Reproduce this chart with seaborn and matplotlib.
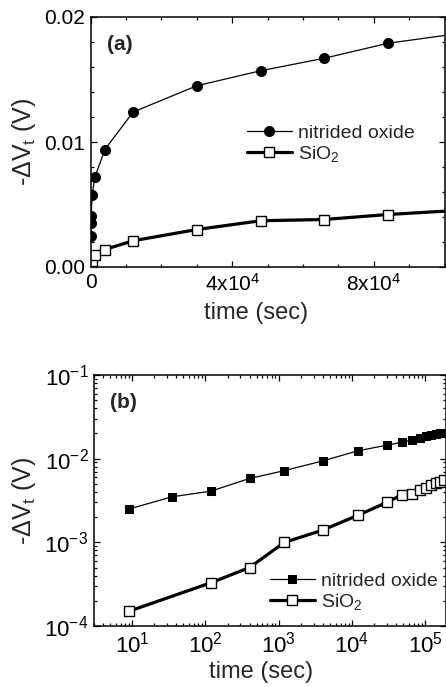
import numpy as np
import pandas as pd
import matplotlib
matplotlib.use("Agg")
import matplotlib.pyplot as plt
import seaborn as sns
from matplotlib.ticker import MultipleLocator, FixedLocator, LogLocator, NullFormatter

# ---- data ----
time_nitrided = [9, 35, 120, 400, 1200, 4000, 12000, 30000, 48000, 66000, 84000,
                 102000, 120000, 140000, 160000, 180000]
dvt_nitrided = [0.0025, 0.0035, 0.0041, 0.0058, 0.0072, 0.0094, 0.0124, 0.0145, 0.0157,
                0.0167, 0.0179, 0.0186, 0.0191, 0.0196, 0.0200, 0.0204]
time_sio2 = [9, 120, 400, 1200, 4000, 12000, 30000, 48000, 66000, 84000,
             102000, 120000, 140000, 160000, 180000]
dvt_sio2 = [0.00015, 0.00033, 0.0005, 0.0010, 0.0014, 0.0021, 0.0030, 0.0037, 0.0038,
            0.0042, 0.0045, 0.0048, 0.0051, 0.0053, 0.0055]
series_labels = ["nitrided oxide", "SiO$_2$"]
panel_labels = ["(a)", "(b)"]
xlabel = "time (sec)"
ylabel = "-$\\Delta$V$_t$ (V)"
lin_xticks = [0, 40000, 80000]
lin_xticklabels = ["0", "4x10$^4$", "8x10$^4$"]
lin_yticks = [0.0, 0.01, 0.02]
lin_yticklabels = ["0.00", "0.01", "0.02"]

sns.set_style("ticks")
plt.rcParams['font.family'] = ['Liberation Sans', 'DejaVu Sans']
plt.rcParams['mathtext.fontset'] = 'custom'
plt.rcParams['mathtext.rm'] = 'Liberation Sans'
plt.rcParams['mathtext.it'] = 'Liberation Sans:italic'
plt.rcParams['mathtext.bf'] = 'Liberation Sans:bold'
plt.rcParams['mathtext.default'] = 'regular'
plt.rcParams['axes.unicode_minus'] = False

W, H = 446, 687
fig = plt.figure(figsize=(W / 100, H / 100), dpi=100)

def px_axes(left, top, right, bottom):
    return fig.add_axes([left / W, 1 - bottom / H, (right - left) / W, (bottom - top) / H])

ax_a = px_axes(90.7, 17, 444.6, 267)
ax_b = px_axes(94, 375, 445.5, 626)

df_n = pd.DataFrame({"t": time_nitrided, "v": dvt_nitrided})
df_s = pd.DataFrame({"t": time_sio2, "v": dvt_sio2})

# ---- panel (a) ----
sns.lineplot(data=df_n, x="t", y="v", ax=ax_a, color="black", lw=0.9, marker="o",
             markersize=7.2, markeredgecolor="black", markerfacecolor="black",
             sort=False, estimator=None, label=series_labels[0])
sns.lineplot(data=df_s, x="t", y="v", ax=ax_a, color="black", lw=2.3, marker="s",
             markersize=7.0, markeredgecolor="black", markerfacecolor="white",
             markeredgewidth=1.0, sort=False, estimator=None, label=series_labels[1])
ax_a.set_xlim(0, 100000)
ax_a.set_ylim(0, 0.02)
ax_a.xaxis.set_major_locator(FixedLocator(lin_xticks))
ax_a.set_xticklabels(lin_xticklabels)
ax_a.xaxis.set_minor_locator(MultipleLocator(10000))
ax_a.yaxis.set_major_locator(FixedLocator(lin_yticks))
ax_a.set_yticklabels(lin_yticklabels)
ax_a.yaxis.set_minor_locator(MultipleLocator(0.002))

# ---- panel (b) ----
sns.lineplot(data=df_n, x="t", y="v", ax=ax_b, color="black", lw=0.9, marker="s",
             markersize=6.2, markeredgecolor="black", markerfacecolor="black",
             sort=False, estimator=None, label=series_labels[0])
sns.lineplot(data=df_s, x="t", y="v", ax=ax_b, color="black", lw=2.3, marker="s",
             markersize=7.4, markeredgecolor="black", markerfacecolor="white",
             markeredgewidth=1.0, sort=False, estimator=None, label=series_labels[1])
ax_b.set_xscale("log")
ax_b.set_yscale("log")
ax_b.set_xlim(3, 1.9e5)
ax_b.set_ylim(1e-4, 1e-1)
ax_b.xaxis.set_major_locator(LogLocator(base=10, numticks=10))
ax_b.xaxis.set_minor_locator(LogLocator(base=10, subs=np.arange(2, 10), numticks=20))
ax_b.yaxis.set_major_locator(LogLocator(base=10, numticks=10))
ax_b.yaxis.set_minor_locator(LogLocator(base=10, subs=np.arange(2, 10), numticks=20))
ax_b.xaxis.set_minor_formatter(NullFormatter())
ax_b.yaxis.set_minor_formatter(NullFormatter())

for ax, lab, tfs in [(ax_a, panel_labels[0], 15), (ax_b, panel_labels[1], 16)]:
    for s in ax.spines.values():
        s.set_linewidth(1.1)
        s.set_color("black")
        s.set_visible(True)
    ax.tick_params(which="both", direction="in", top=True, right=True, colors="black",
                   width=0.9)
    ax.tick_params(which="major", length=4, labelsize=tfs, pad=4)
    ax.tick_params(which="minor", length=2)
    ax.set_xlabel(xlabel, fontsize=17)
    ax.set_ylabel(ylabel, fontsize=18)
    ax.text(0.045, 0.89, lab, transform=ax.transAxes, fontsize=15, fontweight="bold",
            ha="left", va="center")

ax_a.xaxis.set_label_coords(0.467, -0.14)
ax_a.yaxis.set_label_coords(-0.15, 0.5)
ax_b.xaxis.set_label_coords(0.475, -0.14)
ax_b.yaxis.set_label_coords(-0.16, 0.5)

ax_a.legend(loc="center left", bbox_to_anchor=(0.4415, 0.492), frameon=False,
            fontsize=14, handlelength=2.3, handletextpad=0.3, labelspacing=0.1,
            borderpad=0, borderaxespad=0, numpoints=1)
ax_b.legend(loc="center left", bbox_to_anchor=(0.5007, 0.1355), frameon=False,
            fontsize=14, handlelength=2.3, handletextpad=0.3, labelspacing=0.1,
            borderpad=0, borderaxespad=0, numpoints=1)

fig.savefig("out.png", dpi=100)
